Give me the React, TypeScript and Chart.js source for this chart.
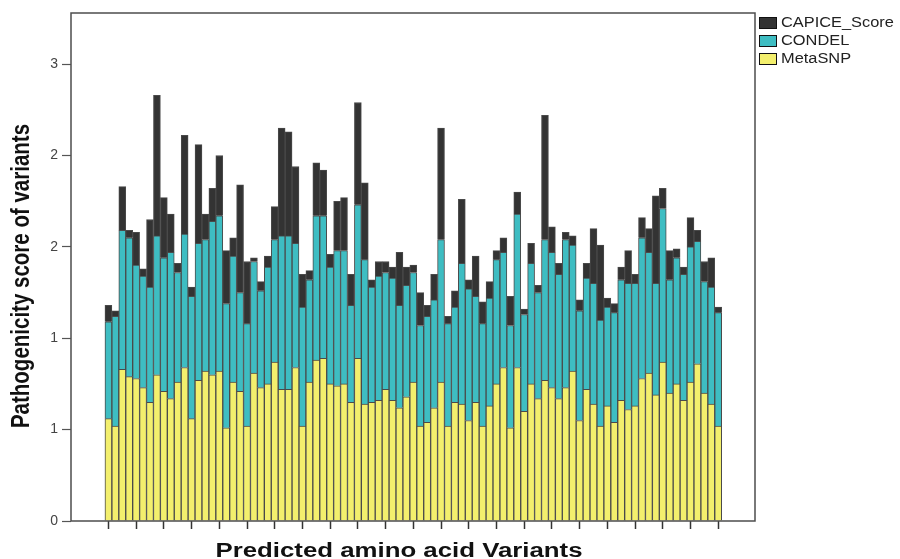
import React, { useEffect, useRef } from 'react';
import { Chart, registerables } from 'chart.js';

Chart.register(...registerables);

// ---- data ----
const seriesNames = ['MetaSNP', 'CONDEL', 'CAPICE_Score'];

const metaSNP = [
  0.56, 0.52, 0.83, 0.79, 0.78, 0.73, 0.65, 0.80, 0.71, 0.67,
  0.76, 0.84, 0.56, 0.77, 0.82, 0.80, 0.82, 0.51, 0.76, 0.71,
  0.52, 0.81, 0.73, 0.75, 0.87, 0.72, 0.72, 0.84, 0.52, 0.76,
  0.88, 0.89, 0.75, 0.74, 0.75, 0.65, 0.89, 0.64, 0.65, 0.66,
  0.72, 0.66, 0.62, 0.68, 0.76, 0.52, 0.54, 0.62, 0.76, 0.52,
  0.65, 0.64, 0.55, 0.65, 0.52, 0.63, 0.75, 0.84, 0.51, 0.84,
  0.60, 0.75, 0.67, 0.77, 0.73, 0.67, 0.73, 0.82, 0.55, 0.72,
  0.64, 0.52, 0.63, 0.54, 0.66, 0.61, 0.63, 0.78, 0.81, 0.69,
  0.87, 0.70, 0.75, 0.66, 0.76, 0.86, 0.70, 0.64, 0.52,
];

const condel = [
  0.53, 0.60, 0.76, 0.76, 0.62, 0.61, 0.63, 0.76, 0.73, 0.80,
  0.60, 0.73, 0.67, 0.75, 0.72, 0.84, 0.85, 0.68, 0.69, 0.54,
  0.56, 0.61, 0.53, 0.64, 0.67, 0.84, 0.84, 0.68, 0.65, 0.56,
  0.79, 0.78, 0.64, 0.74, 0.73, 0.53, 0.84, 0.79, 0.63, 0.68,
  0.64, 0.67, 0.56, 0.61, 0.60, 0.55, 0.58, 0.59, 0.78, 0.56,
  0.52, 0.77, 0.72, 0.58, 0.56, 0.59, 0.68, 0.63, 0.56, 0.84,
  0.53, 0.66, 0.58, 0.77, 0.74, 0.68, 0.81, 0.69, 0.60, 0.61,
  0.66, 0.58, 0.54, 0.60, 0.66, 0.69, 0.67, 0.77, 0.66, 0.61,
  0.84, 0.62, 0.69, 0.69, 0.74, 0.67, 0.61, 0.64, 0.62,
];

const capice = [
  0.09, 0.03, 0.24, 0.04, 0.18, 0.04, 0.37, 0.77, 0.33, 0.21,
  0.05, 0.54, 0.05, 0.54, 0.14, 0.18, 0.33, 0.29, 0.10, 0.59,
  0.34, 0.02, 0.05, 0.06, 0.18, 0.59, 0.57, 0.42, 0.18, 0.05,
  0.29, 0.25, 0.07, 0.27, 0.29, 0.17, 0.56, 0.42, 0.04, 0.08,
  0.06, 0.06, 0.29, 0.10, 0.04, 0.18, 0.06, 0.14, 0.61, 0.04,
  0.09, 0.35, 0.05, 0.22, 0.12, 0.09, 0.05, 0.08, 0.16, 0.12,
  0.03, 0.11, 0.04, 0.68, 0.14, 0.06, 0.04, 0.05, 0.06, 0.08,
  0.30, 0.41, 0.05, 0.05, 0.07, 0.18, 0.05, 0.11, 0.13, 0.48,
  0.11, 0.16, 0.05, 0.04, 0.16, 0.06, 0.11, 0.16, 0.03,
];

const categories = metaSNP.map((_, i) => `Variant ${i + 1}`);
const yTickValues = [0, 0.5, 1, 1.5, 2, 2.5];
const xTickEvery = 4;

const xTitle = 'Predicted amino acid Variants';
const yTitle = 'Pathogenicity score of variants';

const seriesColors: Record<string, string> = {
  MetaSNP: '#f3ef6d',
  CONDEL: '#3ebdc2',
  CAPICE_Score: '#333333',
};

const FONT = '"Liberation Sans", Arial, Helvetica, sans-serif';

function drawStretchedText(
  ctx: CanvasRenderingContext2D,
  text: string,
  x: number,
  y: number,
  font: string,
  sx: number,
  sy: number,
  align: CanvasTextAlign,
  baseline: CanvasTextBaseline,
  rotate = 0,
  color = '#000'
) {
  ctx.save();
  ctx.translate(x, y);
  if (rotate) ctx.rotate(rotate);
  ctx.scale(sx, sy);
  ctx.font = font;
  ctx.fillStyle = color;
  ctx.textAlign = align;
  ctx.textBaseline = baseline;
  ctx.fillText(text, 0, 0);
  ctx.restore();
}

const decorPlugin = {
  id: 'spssDecor',
  afterDraw(chart: any) {
    const ctx: CanvasRenderingContext2D = chart.ctx;
    const a = chart.chartArea;
    // frame
    ctx.save();
    ctx.strokeStyle = '#4d4d4d';
    ctx.lineWidth = 1.5;
    ctx.strokeRect(a.left, a.top, a.right - a.left, a.bottom - a.top);
    ctx.restore();

    // legend (top to bottom: reversed stacking order)
    const ds = chart.data.datasets.slice().reverse();
    const boxX = a.right + 4;
    ds.forEach((d: any, i: number) => {
      const top = a.top + 4 + i * 18;
      ctx.save();
      ctx.fillStyle = d.backgroundColor;
      ctx.fillRect(boxX, top, 18, 12);
      ctx.strokeStyle = '#111';
      ctx.lineWidth = 1;
      ctx.strokeRect(boxX + 0.5, top + 0.5, 17, 11);
      ctx.restore();
      drawStretchedText(ctx, d.label, boxX + 22, top + 6.5, `14px ${FONT}`, 1.17, 1, 'left', 'middle', 0, '#222');
    });

    // axis titles
    const cx = (a.left + a.right) / 2 - 14;
    drawStretchedText(ctx, xTitle, cx, chart.height - 2.5, `bold 20px ${FONT}`, 1.29, 1, 'center', 'alphabetic', 0, '#111');
    const cy = (a.top + a.bottom) / 2 + 9;
    drawStretchedText(ctx, yTitle, 22, cy, `bold 20.5px ${FONT}`, 1, 1.22, 'center', 'middle', -Math.PI / 2, '#111');
  },
};

export default function App() {
  const canvasRef = useRef<HTMLCanvasElement | null>(null);

  useEffect(() => {
    document.body.style.margin = '0';
    const canvas = canvasRef.current;
    if (!canvas) return;
    const series = [metaSNP, condel, capice];
    const chart = new Chart(canvas, {
      type: 'bar',
      data: {
        labels: categories,
        datasets: seriesNames.map((name, s) => ({
          label: name,
          data: series[s].map((v, i) => ({ x: i, y: v })),
          backgroundColor: seriesColors[name],
          borderColor: '#4a4a4a',
          borderWidth: 1,
          barPercentage: 1,
          categoryPercentage: 1,
        })),
      },
      options: {
        responsive: false,
        animation: false,
        devicePixelRatio: 1,
        events: [],
        layout: { padding: { left: 0, top: 13, right: 145, bottom: 0 } },
        plugins: {
          legend: { display: false },
          tooltip: { enabled: false },
          title: { display: false },
        },
        scales: {
          x: {
            type: 'linear',
            stacked: true,
            min: -5.4,
            max: 93.31,
            offset: false,
            border: { display: false },
            grid: {
              offset: false,
              drawOnChartArea: false,
              drawTicks: true,
              tickLength: 8,
              tickColor: '#333',
              tickWidth: 1.5,
            },
            ticks: { display: false },
            afterBuildTicks: (scale: any) => {
              scale.ticks = categories
                .map((_, i) => i)
                .filter((i) => i % xTickEvery === 0)
                .map((v) => ({ value: v }));
            },
            afterFit: (scale: any) => {
              scale.height = 38;
            },
          },
          y: {
            type: 'linear',
            stacked: true,
            min: 0,
            max: 2.78,
            border: { display: false },
            grid: {
              offset: false,
              drawOnChartArea: false,
              drawTicks: true,
              tickLength: 9,
              tickColor: '#555',
              tickWidth: 1.2,
            },
            ticks: {
              padding: 4,
              color: '#444',
              font: { family: FONT, size: 14 },
              callback: (v: any) => String(Math.round(Number(v))),
            },
            afterBuildTicks: (scale: any) => {
              scale.ticks = yTickValues.map((v) => ({ value: v }));
            },
            afterFit: (scale: any) => {
              scale.width = 71;
            },
          },
        },
      },
      plugins: [decorPlugin],
    } as any);
    return () => chart.destroy();
  }, []);

  return (
    <div style={{ position: 'absolute', left: 0, top: 0, width: 900, height: 559, background: '#fff' }}>
      <canvas ref={canvasRef} width={900} height={559} style={{ display: 'block' }} />
    </div>
  );
}
